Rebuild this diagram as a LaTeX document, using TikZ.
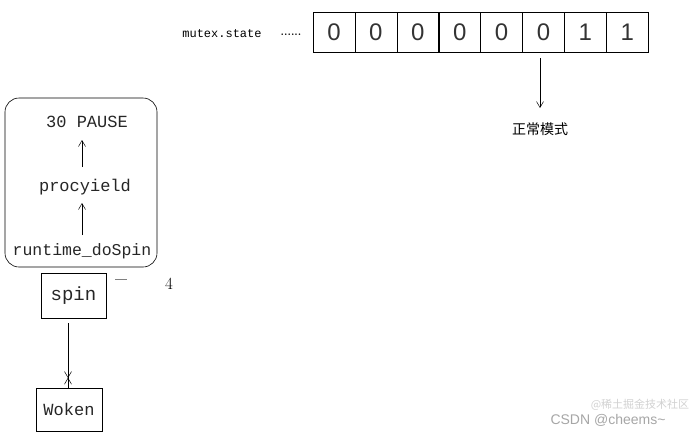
\documentclass[tikz,border=0pt]{standalone}
\usepackage{fontspec}
\usetikzlibrary{arrows.meta}
\setmonofont{Liberation Mono}
\setsansfont{Liberation Sans}
\newfontfamily\cjk{Noto Sans CJK SC}
\begin{document}
\begin{tikzpicture}[x=1pt,y=-1pt,line width=0.6pt,
  cell/.style={draw,minimum width=42pt,minimum height=40pt,inner sep=0pt,font=\sffamily\fontsize{24}{24}\selectfont,text=black!80},
  mono/.style={font=\ttfamily\fontsize{17}{17}\selectfont,inner sep=1pt,text=black!85},
  box/.style={draw,inner sep=0pt},
  arr/.style={-{Straight Barb[length=6pt,width=7pt]},line width=0.5pt}]
\useasboundingbox (0,0) rectangle (700,437);
\node[font=\ttfamily\fontsize{12}{12}\selectfont] (ms) at (222,34) {mutex.state};
\node[font=\bfseries\fontsize{11}{11}\selectfont] (dots) at (291,35) {......};
\foreach \v [count=\i] in {0,0,0,0,0,0,1,1}
  \node[cell] (c\i) at ({313+21+(\i-1)*41.9},32) {\v};
\node[font=\cjk\fontsize{14}{14}\selectfont] (zc) at (540,129) {正常模式};
\coordinate (a1) at (540,58);
\draw[arr] (a1) -- (540,108);
\node[draw,rounded corners=14pt,minimum width=152pt,minimum height=169pt] (rb) at (81,182.5) {};
\node[mono] (p30) at (87,122) {30 PAUSE};
\node[mono] (pr) at (85,187) {procyield};
\node[mono,font=\ttfamily\fontsize{16.5}{16.5}\selectfont] (rd) at (82,251) {runtime\_doSpin};
\draw[arr] (82,235) -- (82,203);
\draw[arr] (82,167) -- (82,140);
\node[box,mono,font=\ttfamily\fontsize{19}{19}\selectfont,minimum width=65pt,minimum height=45pt] (sp) at (73.5,295.5) {spin};
\node[font=\fontsize{17}{17}\selectfont] (four) at (169,284) {4};
\draw[gray,thin] (115,279) -- (127,279);
\node[box,mono,minimum width=66pt,minimum height=43pt] (wk) at (69,409.5) {Woken};
\draw[arr] (68,323) -- (wk.north -| 68,0) ++(0,-10);
\draw[arr] (68,323) -- (68,378);
\node[text=black!35,font=\sffamily\fontsize{14}{14}\selectfont] (wm) at (608,420) {CSDN @cheems\textasciitilde};
\node[text=black!18,font=\cjk\fontsize{11}{11}\selectfont] (wm2) at (640,405) {@稀土掘金技术社区};
\end{tikzpicture}
\end{document}
